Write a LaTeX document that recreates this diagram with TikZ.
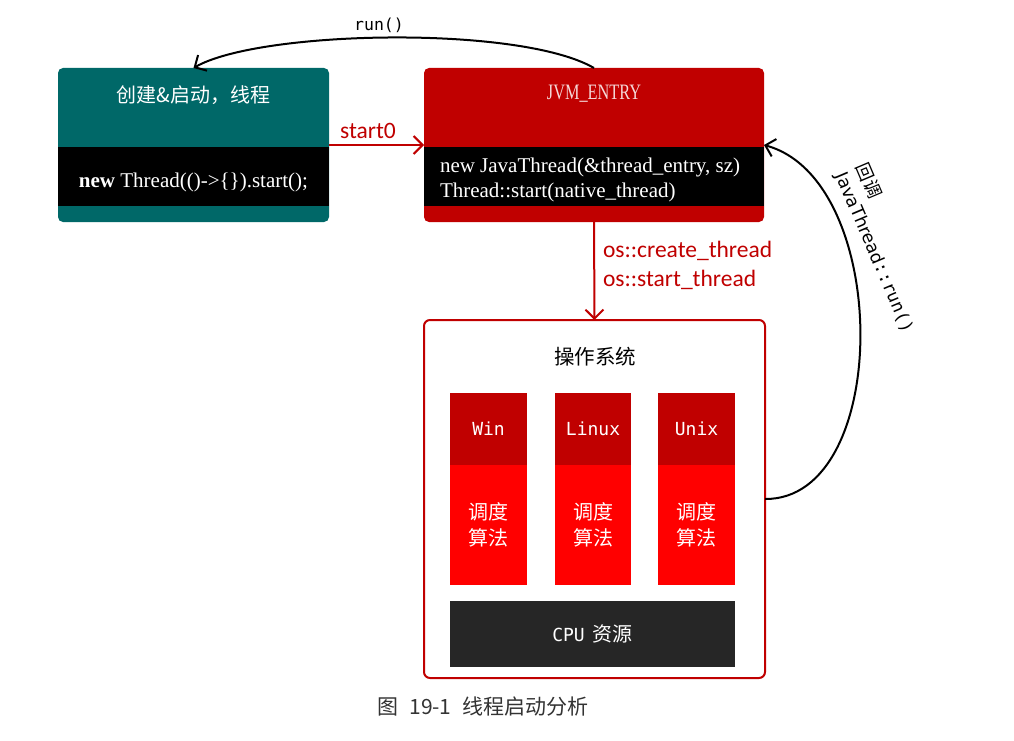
\documentclass[tikz,border=0pt]{standalone}
\usepackage{fontspec}
\setmainfont{Liberation Serif}
\newfontfamily\cjk{Noto Sans CJK SC}
\newfontfamily\calfont{Carlito}
\newfontfamily\monofont{DejaVu Sans Mono}
\newfontfamily\dvsans{DejaVu Sans}
\usetikzlibrary{arrows.meta}
\definecolor{tealC}{RGB}{0,104,104}
\definecolor{darkred}{RGB}{192,0,0}
\definecolor{brightred}{RGB}{255,0,0}
\definecolor{cpugray}{RGB}{38,38,38}
\definecolor{pinkish}{RGB}{245,215,215}
\definecolor{capgray}{RGB}{51,51,51}
\tikzset{
  box/.style={rounded corners=5pt, minimum width=#1},
  redarrow/.style={draw=darkred, line width=2pt, -{Straight Barb[length=9pt,width=18pt,line width=2pt]}},
  blkarrow/.style={draw=black, line width=2pt, -{Straight Barb[length=9pt,width=18pt,line width=2pt]}},
  coltop/.style={fill=darkred, minimum height=72pt, text=white, font=\monofont\fontsize{18}{22}\selectfont},
  colbot/.style={fill=brightred, minimum height=120pt, text=white, align=center, font=\cjk\fontsize{20}{26}\selectfont},
  redlabel/.style={text=darkred, font=\calfont\fontsize{23.5}{28}\selectfont},
}
\begin{document}
\begin{tikzpicture}[x=1pt,y=-1pt, every node/.style={inner sep=0pt, outer sep=0pt}]
\useasboundingbox (0,0) rectangle (1014,741);
\fill[white] (0,0) rectangle (1014,741);

% left box
\node[box=271pt, fill=tealC, minimum height=154pt] (create) at (193.5,145) {};
\fill[black] (58,147) rectangle (329,206);
\node[text=white, font=\cjk\fontsize{20}{24}\selectfont] (createT) at (193.5,95) {创建\&启动，线程};
\node[text=white, font=\fontsize{21}{25}\selectfont] (createC) at (193.5,182) {\textbf{new} Thread(()->\{\}).start();};

% JVM box
\node[box=340pt, fill=darkred, minimum height=154pt] (jvm) at (594,145) {};
\fill[black] (424,147) rectangle (764,206);
\node[text=pinkish, font=\fontsize{22}{26}\selectfont] (jvmT) at (594,94) {\scalebox{0.74}[1]{JVM\_ENTRY}};
\node[text=white, anchor=west, align=left, font=\fontsize{21}{25}\selectfont] (jvmC) at (440,180) {new JavaThread(\&thread\_entry, sz)\\Thread::start(native\_thread)};

% OS box
\node[draw=darkred, line width=2pt, rounded corners=6pt, fill=white, minimum width=341pt, minimum height=358pt] (os) at (594.5,499) {};
\node[font=\cjk\fontsize{20.5}{24}\selectfont] (osT) at (595,357) {操作系统};

\node[coltop, minimum width=77pt] (winT) at (488.5,429) {\raisebox{-2pt}{Win}};
\node[colbot, minimum width=77pt] (winB) at (488.5,525) {调度\\算法};
\node[coltop, minimum width=76pt] (linT) at (593,429) {\raisebox{-2pt}{Linux}};
\node[colbot, minimum width=76pt] (linB) at (593,525) {调度\\算法};
\node[coltop, minimum width=77pt] (uniT) at (696.5,429) {\raisebox{-2pt}{Unix}};
\node[colbot, minimum width=77pt] (uniB) at (696.5,525) {调度\\算法};

\node[fill=cpugray, minimum width=285pt, minimum height=66pt, text=white] (cpu) at (592.5,634)
  {{\monofont\fontsize{18}{22}\selectfont CPU}\hspace{8pt}{\cjk\fontsize{20}{24}\selectfont 资源}};

% connectors
\draw[redarrow] (create.east) -- (jvm.west);
\node[redlabel] (startL) at (368,131) {start0};

\draw[blkarrow] (jvm.north) .. controls (520,25) and (260,30) .. (create.north);
\node[font=\monofont\fontsize{16.5}{20}\selectfont] (runL) at (379,25) {run()};

\draw[redarrow] (jvm.south) -- (os.north);
\node[redlabel, anchor=west] (osL1) at (603,251) {os::create\_thread};
\node[redlabel, anchor=west] (osL2) at (603,280) {os::start\_thread};

\draw[blkarrow] (os.east) .. controls (892,500) and (892,180) .. (jvm.east);
\node[rotate=-67, anchor=west, align=left, font=\fontsize{17.5}{22}\selectfont] (cbL) at (851,169)
  {{\cjk\fontsize{18}{22}\selectfont 回调}\\{\dvsans JavaThread}{\monofont ::run()}};

% caption
\node[text=capgray, font=\cjk\fontsize{21}{24}\selectfont] (cap) at (483,707) {图\hspace{11pt}19-1\hspace{11pt}线程启动分析};
\end{tikzpicture}
\end{document}
